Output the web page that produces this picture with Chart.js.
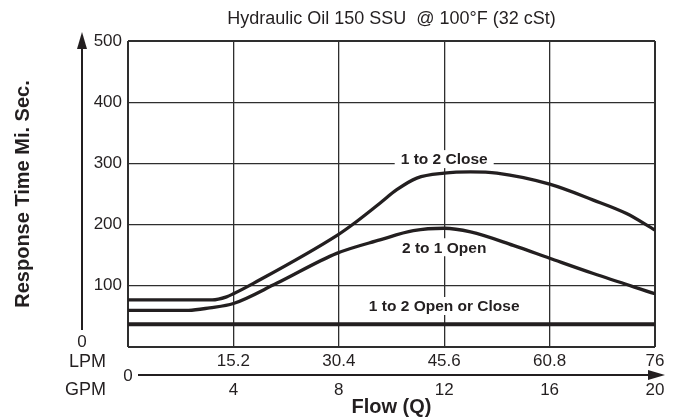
<!DOCTYPE html>
<html>
<head>
<meta charset="utf-8">
<script src="https://cdn.jsdelivr.net/npm/chart.js@4/dist/chart.umd.min.js"></script>
<style>
  html, body { margin: 0; padding: 0; background: #fff; }
</style>
</head>
<body>
<canvas id="chart" width="678" height="419"></canvas>
<script>
let titleText = "Hydraulic Oil 150 SSU  @ 100°F (32 cSt)";
let yTitle = "Response Time Mi. Sec.";
let xTitle = "Flow (Q)";

let responseTicks = [0, 100, 200, 300, 400, 500];
let gpmTicks = [0, 4, 8, 12, 16, 20];
let lpmTicks = [15.2, 30.4, 45.6, 60.8, 76];

// curves, x in GPM, y in ms
let closeGpm = [0, 3.2, 3.74, 4, 4.76, 7.92, 8.55, 9.56, 10.2, 10.96, 12, 13, 14, 16, 17.66, 18.92, 20];
let closeMs = [77, 77, 82, 87, 104, 182, 201, 235, 257, 276, 284, 286, 284, 266, 240, 218, 191];

let openGpm = [0, 2.3, 3.1, 4, 5.64, 7.92, 9.56, 10.83, 12, 13, 14.62, 16, 17.66, 20];
let openMs = [60, 60, 64, 71, 104, 153, 175, 190, 194, 188, 166, 145, 120, 87];

let bothGpm = [0, 20];
let bothMs = [37, 37];

let curveLabels = [
  { text: "1 to 2 Close", gpm: 12, ms: 307 },
  { text: "2 to 1 Open", gpm: 12, ms: 163 },
  { text: "1 to 2 Open or Close", gpm: 12, ms: 67 },
];

let ink = "#231f20";
let gridInk = "#2e2e2e";
let fontFamily = "'Liberation Sans', Arial, Helvetica, sans-serif";

function points(xs, ys) {
  return xs.map((x, i) => ({ x: x, y: ys[i] }));
}

function edgeWidth(lo, hi) {
  return function (ctx) {
    let v = ctx.tick ? ctx.tick.value : null;
    return v === lo || v === hi ? 2 : 1.3;
  };
}

let decorations = {
  id: "decorations",
  beforeDatasetsDraw(chart) {
    let ctx = chart.ctx;
    let x = chart.scales.x;
    let y = chart.scales.y;
    ctx.save();
    ctx.font = "bold 15.5px " + fontFamily;
    ctx.textAlign = "center";
    ctx.textBaseline = "middle";
    for (let label of curveLabels) {
      let px = x.getPixelForValue(label.gpm);
      let py = y.getPixelForValue(label.ms);
      let w = ctx.measureText(label.text).width;
      ctx.fillStyle = "#fff";
      ctx.fillRect(px - w / 2 - 6, py - 9, w + 12, 18);
      ctx.fillStyle = ink;
      ctx.fillText(label.text, px, py + 1);
    }
    ctx.restore();
  },
  afterDraw(chart) {
    let ctx = chart.ctx;
    let area = chart.chartArea;
    let lpm = chart.scales.xLpm;
    ctx.save();
    ctx.strokeStyle = ink;
    ctx.fillStyle = ink;
    ctx.lineWidth = 2;

    // vertical arrow
    let ax = area.left - 46;
    ctx.beginPath();
    ctx.moveTo(ax, area.top + 1);
    ctx.lineTo(ax, area.bottom - 17);
    ctx.stroke();
    ctx.beginPath();
    ctx.moveTo(ax, area.top - 9);
    ctx.lineTo(ax - 5, area.top + 8);
    ctx.lineTo(ax + 5, area.top + 8);
    ctx.closePath();
    ctx.fill();

    // horizontal arrow
    let ay = lpm.bottom + 3;
    ctx.beginPath();
    ctx.moveTo(area.left + 10, ay);
    ctx.lineTo(area.right - 5, ay);
    ctx.stroke();
    ctx.beginPath();
    ctx.moveTo(area.right + 10, ay);
    ctx.lineTo(area.right - 7, ay - 5);
    ctx.lineTo(area.right - 7, ay + 5);
    ctx.closePath();
    ctx.fill();

    ctx.font = "17px " + fontFamily;
    ctx.textBaseline = "middle";
    ctx.textAlign = "center";
    ctx.fillText("0", ax, area.bottom - 5);
    ctx.fillText("0", area.left, ay + 1);
    ctx.font = "18px " + fontFamily;
    ctx.textAlign = "right";
    ctx.fillText("LPM", area.left - 22, area.bottom + 15);
    ctx.fillText("GPM", area.left - 22, area.bottom + 43);
    ctx.restore();
  },
};

Chart.defaults.color = ink;
Chart.defaults.font.family = fontFamily;

new Chart(document.getElementById("chart"), {
  type: "line",
  data: {
    datasets: [
      {
        label: "1 to 2 Close",
        data: points(closeGpm, closeMs),
        xAxisID: "x",
        yAxisID: "y",
        borderColor: ink,
        borderWidth: 3.3,
        pointRadius: 0,
        cubicInterpolationMode: "monotone",
      },
      {
        label: "2 to 1 Open",
        data: points(openGpm, openMs),
        xAxisID: "x",
        yAxisID: "y",
        borderColor: ink,
        borderWidth: 3.3,
        pointRadius: 0,
        cubicInterpolationMode: "monotone",
      },
      {
        label: "1 to 2 Open or Close",
        data: points(bothGpm, bothMs),
        xAxisID: "x",
        yAxisID: "y",
        borderColor: ink,
        borderWidth: 4,
        pointRadius: 0,
      },
    ],
  },
  options: {
    responsive: false,
    animation: false,
    layout: { padding: { left: 0, right: 23, top: 0, bottom: 0 } },
    plugins: {
      legend: { display: false },
      tooltip: { enabled: false },
    },
    scales: {
      x: {
        type: "linear",
        position: "bottom",
        weight: 1,
        min: 0,
        max: 20,
        afterBuildTicks: (s) => { s.ticks = gpmTicks.map((v) => ({ value: v })); },
        afterFit: (s) => { s.height = 47; },
        grid: { color: gridInk, lineWidth: edgeWidth(0, 20), drawTicks: false },
        border: { display: false },
        ticks: {
          padding: 8,
          color: ink,
          font: { size: 17 },
          maxRotation: 0,
          autoSkip: false,
          callback: (v) => (v === 0 ? "" : String(v)),
        },
        title: {
          display: true,
          text: xTitle,
          color: ink,
          font: { size: 20, weight: "bold" },
          padding: { top: 0, bottom: 0 },
        },
      },
      y: {
        type: "linear",
        min: 0,
        max: 500,
        afterBuildTicks: (s) => { s.ticks = responseTicks.map((v) => ({ value: v })); },
        afterFit: (s) => { s.width = 128; },
        grid: { color: gridInk, lineWidth: edgeWidth(0, 500), drawTicks: false },
        border: { display: false },
        ticks: {
          padding: 6,
          color: ink,
          font: { size: 17 },
          callback: (v) => (v === 0 ? "" : v),
        },
        title: {
          display: true,
          text: yTitle,
          color: ink,
          font: { size: 20, weight: "bold" },
          padding: { top: 11, bottom: 0 },
        },
      },
      xHead: {
        type: "linear",
        axis: "x",
        position: "top",
        min: 0,
        max: 1,
        afterFit: (s) => { s.height = 41; },
        grid: { display: false, drawTicks: false },
        border: { display: false },
        ticks: { display: false },
        title: {
          display: true,
          text: titleText,
          color: ink,
          font: { size: 18 },
          padding: { top: 8, bottom: 0 },
        },
      },
      xLpm: {
        type: "linear",
        axis: "x",
        position: "bottom",
        weight: 0,
        min: 0,
        max: 76,
        afterBuildTicks: (s) => { s.ticks = lpmTicks.map((v) => ({ value: v })); },
        afterFit: (s) => { s.height = 25; },
        grid: { display: false, drawTicks: false },
        border: { display: false },
        ticks: {
          padding: 4,
          color: ink,
          font: { size: 17 },
          maxRotation: 0,
          autoSkip: false,
          callback: (v) => String(v),
        },
      },
    },
  },
  plugins: [decorations],
});
</script>
</body>
</html>
